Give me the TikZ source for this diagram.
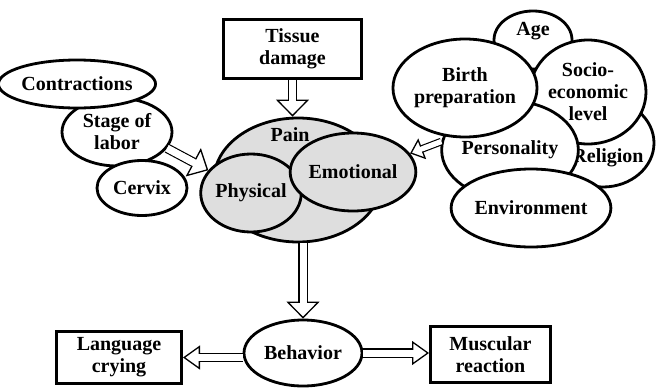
\documentclass[tikz,border=0pt]{standalone}
\usepackage{fontspec}
\setmainfont{Liberation Serif}
\usepackage{tikz}
\usetikzlibrary{arrows.meta,shapes.geometric,calc}

\begin{document}
\begin{tikzpicture}
    [
      x=1pt, y=-1pt,
      every node/.style = {font=\fontsize{20}{22}\selectfont\bfseries, align=center},
      oval/.style = {draw, ellipse, line width=2.8pt, fill=white, inner sep=0pt},
      painoval/.style = {oval, fill=black!13},
      box/.style = {draw, rectangle, line width=3pt, fill=white, inner sep=0pt},
      hollow/.style n args = {3}{double, double distance=#1, line width=1.3pt,
        -{Triangle[length=#2, width=#3, fill=white, line width=1.3pt]},
        postaction={draw=white, double distance=0pt, line width=0.5*#1, -, shorten >=#2-2.5pt}},
    ]
    \useasboundingbox (0,0) rectangle (658,388);

    \node[box, minimum width=138pt, minimum height=59pt](tissue) at (292.5,49) {Tissue\\damage};

    \node[oval, minimum width=110pt, minimum height=68pt](stage) at (117,132) {Stage of\\labor};
    \node[oval, minimum width=124pt, minimum height=48pt](contr) at (77,84) {Contractions};
    \node[oval, minimum width=90pt, minimum height=55pt](cervix) at (142,188) {Cervix};

    \node[painoval, minimum width=168pt, minimum height=124pt,
          label={[anchor=center, xshift=-8pt, yshift=-18pt]north:Pain}](pain) at (298,180) {};
    \node[painoval, minimum width=98pt, minimum height=78pt](phys) at (251,193) {Physical};
    \node[painoval, minimum width=114pt, minimum height=78pt](emo) at (353,172) {Emotional};

    \node[oval, minimum width=78pt, minimum height=58pt,
          label={[anchor=center, yshift=-22pt]north:Age}](age) at (533,40) {};
    \node[oval, minimum width=102pt, minimum height=88pt,
          label={[anchor=center, xshift=5pt, yshift=-60pt]north:Religion}](relig) at (603,143) {};
    \node[oval, minimum width=116pt, minimum height=104pt](socio) at (588,92) {Socio-\\economic\\level};
    \node[oval, minimum width=124pt, minimum height=98pt](person) at (510,150) {Personality};
    \node[oval, minimum width=132pt, minimum height=98pt](birth) at (465,88) {Birth\\preparation};
    \node[oval, minimum width=128pt, minimum height=78pt](env) at (531,208) {Environment};

    \node[oval, minimum width=118pt, minimum height=66pt](behav) at (303,353) {Behavior};
    \node[box, minimum width=125pt, minimum height=52pt](lang) at (119,357.5) {Language\\crying};
    \node[box, minimum width=120pt, minimum height=56pt](musc) at (490.5,354.5) {Muscular\\reaction};

    \draw[hollow={7pt}{17pt}{33pt}] (tissue.south) -- (tissue.south |- pain.north);
    \draw[hollow={7pt}{17pt}{32pt}] (stage.-18) -- (phys.152);
    \draw[hollow={5pt}{13pt}{22pt}] (person.173) -- (emo.18);
    \draw[hollow={7pt}{17pt}{33pt}] (pain.south -| behav.north) -- (behav.north);
    \draw[hollow={7pt}{17pt}{24pt}] (lang.east -| behav.west) -- (lang.east);
    \draw[hollow={7pt}{17pt}{24pt}] (behav.east) -- (behav.east -| musc.west);
  \end{tikzpicture}
\end{document}
